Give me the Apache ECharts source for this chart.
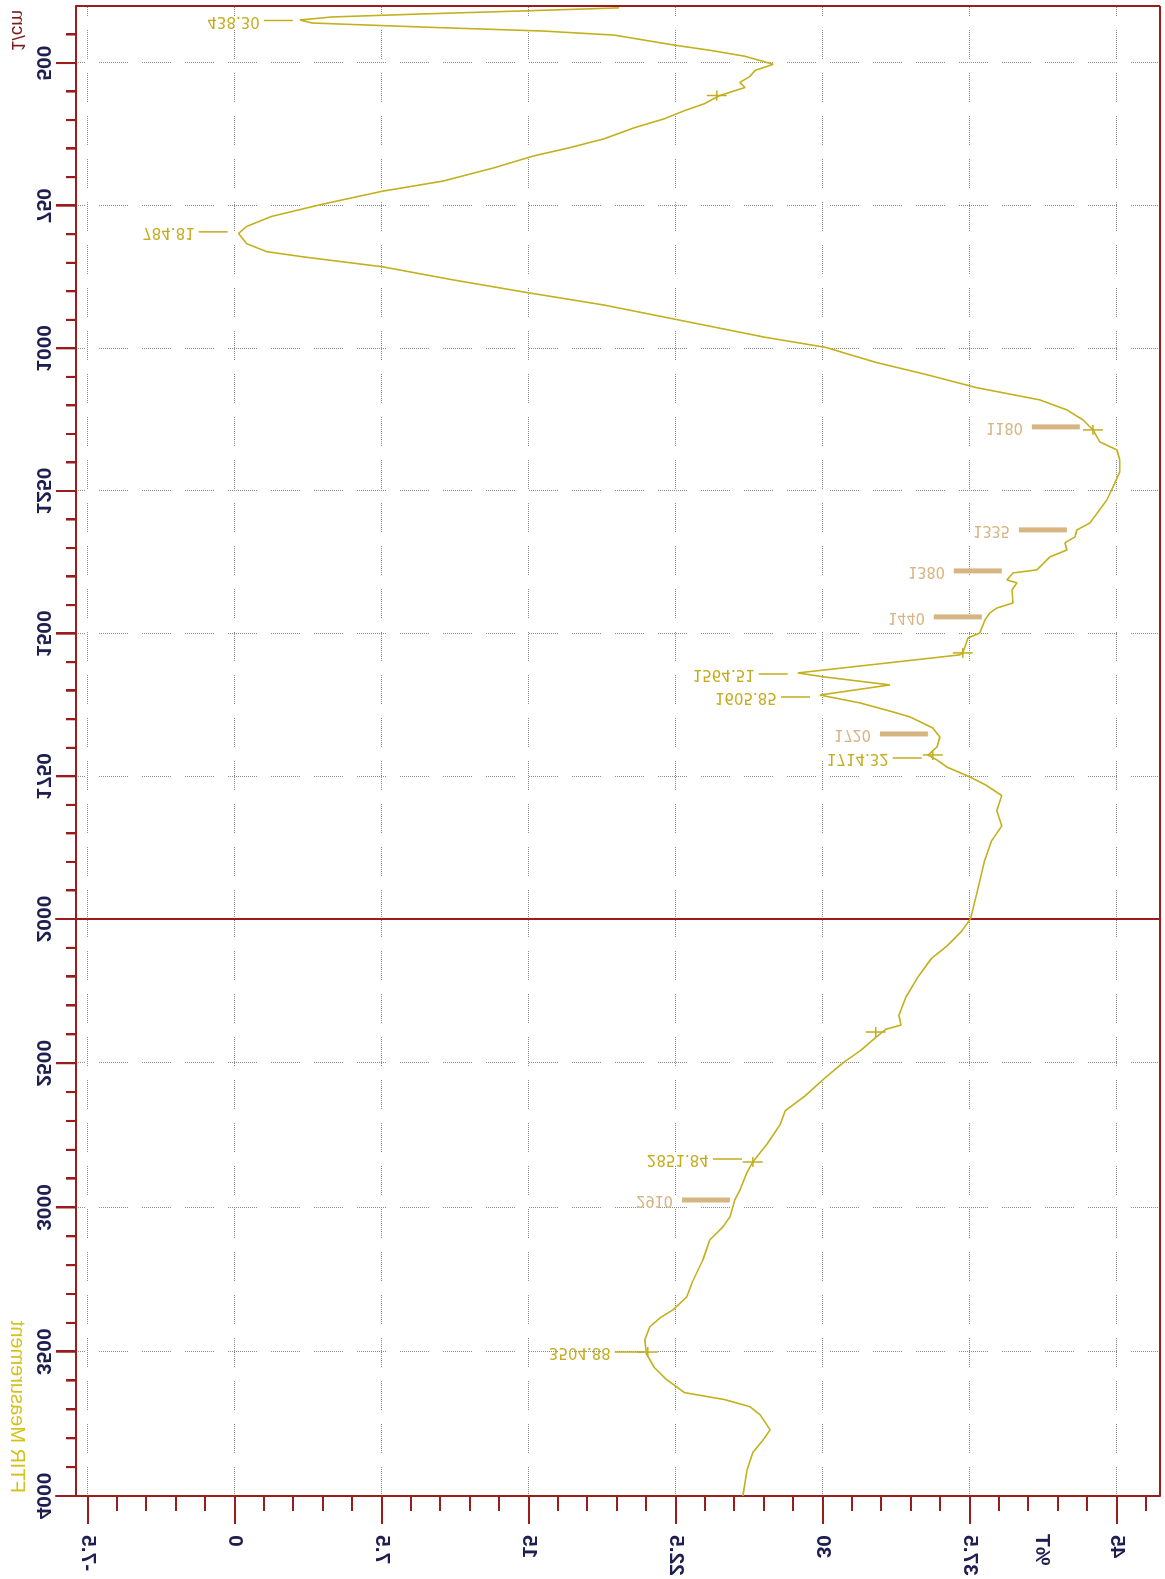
<!DOCTYPE html>
<html><head><meta charset="utf-8">
<script src="https://cdn.jsdelivr.net/npm/echarts@6/dist/echarts.min.js"></script>
<style>
html,body{margin:0;padding:0;background:#fff;overflow:hidden;width:1165px;height:1579px;}
#chart{position:absolute;left:0;top:0;width:1579px;height:1165px;transform-origin:0 0;transform:matrix(0,-1,-1,0,1165,1579);}
</style></head><body><div id="chart"></div>
<script>
// ---- spectrum (wavenumber in 1/cm, transmittance in %T) ----
const wavenumber = [403.3,408.6,413.9,419.2,424.5,429.8,436.9,443.9,451.0,459.8,468.6,477.5,488.1,502.2,512.8,523.4,533.9,542.8,556.9,571.0,583.4,597.5,613.4,632.8,648.7,662.8,684.0,706.9,724.6,747.5,768.7,786.4,798.7,816.4,830.5,839.3,857.0,879.9,901.1,924.0,945.2,962.9,980.5,998.2,1024.6,1045.8,1068.8,1090.3,1107.8,1125.4,1142.9,1163.9,1178.0,1195.5,1216.5,1242.8,1265.6,1306.0,1318.2,1330.5,1340.9,1353.3,1365.5,1388.2,1393.5,1405.9,1411.0,1423.4,1446.1,1455.0,1463.6,1476.0,1498.7,1507.6,1533.9,1537.2,1568.8,1575.3,1589.8,1607.5,1621.2,1637.1,1645.9,1665.3,1681.2,1698.5,1712.7,1721.3,1733.7,1751.1,1766.0,1783.6,1810.1,1836.6,1863.0,1898.3,1942.5,2000.0,2043.3,2095.6,2137.5,2200.3,2270.1,2332.9,2367.8,2381.8,2409.7,2455.1,2496.9,2549.3,2612.1,2664.5,2714.0,2776.5,2811.0,2842.1,2880.1,2939.1,2974.0,3032.6,3067.5,3112.5,3181.6,3261.6,3310.1,3355.1,3382.6,3414.1,3459.1,3505.5,3554.4,3596.2,3641.6,3666.0,3690.5,3718.4,3770.7,3805.6,3847.5,3910.3,4000.0];
const transmittance = [19.60,14.72,9.59,4.96,3.32,3.94,9.59,15.75,19.35,20.89,22.43,24.23,26.03,27.47,26.54,26.28,25.77,26.03,24.74,23.97,22.94,21.92,20.38,18.83,17.04,15.24,13.18,10.61,7.53,4.45,1.88,0.60,0.19,0.60,1.63,3.42,7.53,11.13,14.72,18.83,21.92,24.49,27.05,30.14,32.71,35.27,37.84,41.07,42.45,43.27,43.78,44.13,45.00,45.15,45.15,44.80,44.49,43.62,42.96,42.86,42.35,42.45,41.58,40.92,39.70,39.39,39.90,39.65,39.70,38.88,38.52,38.27,38.01,37.40,37.14,36.97,28.72,29.98,33.42,29.85,31.88,33.58,34.45,35.61,35.97,35.82,35.36,35.82,36.33,37.50,38.35,39.13,38.87,39.13,38.61,38.25,37.94,37.53,37.07,36.30,35.53,34.86,34.24,33.88,33.99,33.22,32.71,31.94,31.06,30.14,29.11,28.08,27.81,27.19,26.79,26.43,26.12,25.77,25.51,25.26,24.90,24.23,23.88,23.32,23.06,22.35,21.69,21.17,20.92,20.99,21.40,22.02,22.94,25.00,26.28,26.80,27.31,26.95,26.44,26.13,25.92];

// ---- peak annotations ----
const peakWn   = [425.4, 795.8, 1570.6, 1610.9, 1717.8, 2831.9, 3500.9];
const peakT    = [2.96, -0.36, 28.21, 29.34, 35.05, 25.87, 20.87];
const peakText = ['438.30','784.81','1564.51','1605.85','1714.32','2851.84','3504.88'];
const bandWn   = [1137.6, 1318.1, 1390.0, 1470.6, 1675.7, 2974.0];
const bandT    = [43.11, 42.45, 39.13, 38.11, 35.36, 25.26];
const bandText = ['1180','1335','1380','1440','1720','2910'];
const crossWn  = [556.9, 1142.9, 1533.7, 1712.5, 2391.7, 2842.3, 3500.9];
const crossT   = [24.59, 43.78, 37.14, 35.61, 32.70, 26.43, 21.07];

// ---- ticks ----
const wnLabelsLow  = [4000, 3500, 3000, 2500];
const wnLabelsHigh = [2000, 1750, 1500, 1250, 1000, 750, 500];
const wnMinorLow   = [2100,2200,2300,2400,2600,2700,2800,2900,3100,3200,3300,3400,3600,3700,3800,3900];
const wnMinorHigh  = [450,550,600,650,700,800,850,900,950,1050,1100,1150,1200,1300,1350,1400,1450,1550,1600,1650,1700,1800,1850,1900,1950];
const tLabels      = [-7.5, 0, 7.5, 15, 22.5, 30, 37.5, 45];
const tMinor       = [-6,-4.5,-3,-1.5,1.5,3,4.5,6,9,10.5,12,13.5,16.5,18,19.5,21,24,25.5,27,28.5,31.5,33,34.5,36,39,40.5,42,43.5,46.5];
const T_MIN = -8.1, T_MAX = 47.2;

// layout: plot frame is 1084 px tall; the grids reach 20 px further down so the wavenumber ticks lie inside them
const PLOT_H = 1084, TICK_BAND = 20;
const T_AXIS_MIN = T_MIN - TICK_BAND * (T_MAX - T_MIN) / PLOT_H;

const RED = '#9b1c1c', CURVE = '#c2b01c', YEL = '#c4ac1e', BEIGE = '#d6b582', INK = '#1e1e50', GRIDC = '#8a8a8a';
const dash = []; for (let i = 0; i < 15; i++) { dash.push(1, 1); } dash[dash.length - 1] = 14;
const plain = v => String(v);

const lowPts = [], highPts = [];
wavenumber.forEach((w, i) => { if (w >= 2000) lowPts.push([w, transmittance[i]]); if (w <= 2000) highPts.push([w, transmittance[i]]); });
function pick(ws, ts, txt, low) { const out = []; ws.forEach((w, i) => { if ((w >= 2000) === low) out.push([w, ts[i], txt ? txt[i] : '']); }); return out; }

const chart = echarts.init(document.getElementById('chart'), null, {renderer: 'canvas'});
const tickLabelStyle = {color: INK, fontFamily: '"Liberation Sans", Arial, sans-serif', fontSize: 21, fontWeight: 'bold', formatter: plain};

// x axes sit on a hidden helper y axis whose zero lies TICK_BAND px above the grid bottom (= T_MIN)
function xMajor(grid, min, max, labels, helper) {
  return {type:'value', gridIndex:grid, min:min, max:max, inverse:true, position:'bottom',
    axisLine:{show:true, onZero:true, onZeroAxisIndex:helper, lineStyle:{color:RED, width:2}},
    axisTick:{show:true, inside:false, customValues:labels, length:20, lineStyle:{color:RED, width:2}},
    axisLabel:Object.assign({show:true, customValues:labels, margin:3, showMinLabel:true, showMaxLabel:true}, tickLabelStyle),
    splitLine:{show:true, lineStyle:{color:GRIDC, width:1, type:dash}}};
}
function xMinor(grid, min, max, vals, helper) {
  return {type:'value', gridIndex:grid, min:min, max:max, inverse:true, position:'bottom',
    axisLine:{show:false, onZero:true, onZeroAxisIndex:helper},
    axisTick:{show:true, inside:false, customValues:vals, length:10, lineStyle:{color:RED, width:2}},
    axisLabel:{show:false}, splitLine:{show:false}};
}
const yBase = {type:'value', min:T_AXIS_MIN, max:T_MAX, position:'left'};
const yHelper = g => ({type:'value', gridIndex:g, min:-TICK_BAND, max:PLOT_H, position:'right', show:false,
  axisLine:{show:false, onZero:false}, axisTick:{show:false}, axisLabel:{show:false}, splitLine:{show:false}});

function tickSeries(major, minor, xi, yi) {
  const data = major.map(v => [v, T_MIN, 1]).concat(minor.map(v => [v, T_MIN, 0]));
  return {type:'custom', xAxisIndex:xi, yAxisIndex:yi, silent:true, z:7, animation:false, clip:false,
    data:data,
    renderItem:function(params, api){
      const p = api.coord([api.value(0), api.value(1)]);
      const len = api.value(2) ? 20 : 10;
      return {type:'line', shape:{x1:p[0], y1:p[1], x2:p[0], y2:p[1] + len}, style:{stroke:RED, lineWidth:2}};
    }};
}
// top and far frame edges, drawn along the axis extents
function frameSeries(segs, xi, yi) {
  return {type:'custom', xAxisIndex:xi, yAxisIndex:yi, silent:true, z:7, animation:false, clip:false,
    data:segs,
    renderItem:function(params, api){
      const a = api.coord([api.value(0), api.value(1)]);
      const b = api.coord([api.value(2), api.value(3)]);
      return {type:'line', shape:{x1:a[0], y1:a[1], x2:b[0], y2:b[1]}, style:{stroke:RED, lineWidth:2}};
    }};
}
function labelSeries(data, xi, yi, band) {
  return {type:'custom', xAxisIndex:xi, yAxisIndex:yi, silent:true, z:6, animation:false, clip:false,
    data:data.map(d => [d[0], d[1]]),
    renderItem:function(params, api){
      const p = api.coord([api.value(0), api.value(1)]);
      const txt = data[params.dataIndex][2];
      const len = band ? 48 : 29, lw = band ? 5 : 1.5, col = band ? BEIGE : YEL, gap = band ? 9 : 4;
      const font = band ? '16px "Liberation Sans Narrow", "DejaVu Sans Condensed", sans-serif' : '15px "DejaVu Sans", sans-serif';
      return {type:'group', children:[
        {type:'line', shape:{x1:p[0], y1:p[1], x2:p[0], y2:p[1] + len}, style:{stroke:col, lineWidth:lw}},
        {type:'text', x:p[0], y:p[1] + len + gap, rotation:Math.PI / 2,
          style:{text:txt, fill:col, font:font, align:'right', verticalAlign:'middle'}}
      ]};
    }};
}
function crossSeries(data, xi, yi) {
  return {type:'custom', xAxisIndex:xi, yAxisIndex:yi, silent:true, z:6, animation:false, clip:false,
    data:data.map(d => [d[0], d[1]]),
    renderItem:function(params, api){
      const p = api.coord([api.value(0), api.value(1)]);
      return {type:'group', children:[
        {type:'line', shape:{x1:p[0] - 5, y1:p[1], x2:p[0] + 5, y2:p[1]}, style:{stroke:YEL, lineWidth:1.5}},
        {type:'line', shape:{x1:p[0], y1:p[1] - 10, x2:p[0], y2:p[1] + 10}, style:{stroke:YEL, lineWidth:1.5}}
      ]};
    }};
}

const option = {
  animation:false,
  backgroundColor:'#ffffff',
  grid:[
    {left:83, top:5, width:577, height:PLOT_H + TICK_BAND, show:false},
    {left:660, top:5, width:913, height:PLOT_H + TICK_BAND, show:false}
  ],
  xAxis:[
    xMajor(0, 2000, 4000, wnLabelsLow, 3),
    xMinor(0, 2000, 4000, wnMinorLow, 3),
    xMajor(1, 400, 2000, wnLabelsHigh, 4),
    xMinor(1, 400, 2000, wnMinorHigh, 4)
  ],
  yAxis:[
    Object.assign({}, yBase, {gridIndex:0,
      axisLine:{show:true, onZero:false, lineStyle:{color:RED, width:2}},
      axisTick:{show:true, customValues:tLabels, length:28, lineStyle:{color:RED, width:2}},
      axisLabel:Object.assign({show:true, customValues:tLabels, margin:39, showMinLabel:true, showMaxLabel:true}, tickLabelStyle),
      splitLine:{show:true, lineStyle:{color:GRIDC, width:1, type:dash}}}),
    Object.assign({}, yBase, {gridIndex:0,
      axisLine:{show:false, onZero:false}, axisTick:{show:true, customValues:tMinor, length:15, lineStyle:{color:RED, width:2}},
      axisLabel:{show:false}, splitLine:{show:false}}),
    Object.assign({}, yBase, {gridIndex:1,
      axisLine:{show:true, onZero:false, lineStyle:{color:RED, width:2}},
      axisTick:{show:false, customValues:tLabels}, axisLabel:{show:false},
      splitLine:{show:true, lineStyle:{color:GRIDC, width:1, type:dash}}}),
    yHelper(0),
    yHelper(1)
  ],
  graphic:[
    {type:'text', x:86, y:1148, style:{text:'FTIR Measurement', fill:'#d4c21a', font:'20px "Liberation Sans", Arial, sans-serif', align:'left', verticalAlign:'middle'}},
    {type:'text', x:1569, y:1148, style:{text:'1/cm', fill:'#7a1a1a', font:'19px "Liberation Sans", Arial, sans-serif', align:'right', verticalAlign:'middle'}},
    {type:'text', x:45, y:123, style:{text:'%T', fill:INK, font:'bold 21px "Liberation Sans", Arial, sans-serif', align:'right', verticalAlign:'middle'}}
  ],
  series:[
    {type:'line', xAxisIndex:0, yAxisIndex:0, data:lowPts, showSymbol:false, symbol:'none', lineStyle:{color:CURVE, width:1.6}, z:4},
    {type:'line', xAxisIndex:2, yAxisIndex:2, data:highPts, showSymbol:false, symbol:'none', lineStyle:{color:CURVE, width:1.6}, z:4},
    tickSeries(wnLabelsLow.concat([2000]), wnMinorLow, 0, 0),
    tickSeries(wnLabelsHigh, wnMinorHigh, 2, 2),
    frameSeries([[4000, T_MAX, 2000, T_MAX]], 0, 0),
    frameSeries([[2000, T_MAX, 400, T_MAX], [400, T_MIN, 400, T_MAX]], 2, 2),
    labelSeries(pick(peakWn, peakT, peakText, true), 0, 0, false),
    labelSeries(pick(peakWn, peakT, peakText, false), 2, 2, false),
    labelSeries(pick(bandWn, bandT, bandText, true), 0, 0, true),
    labelSeries(pick(bandWn, bandT, bandText, false), 2, 2, true),
    crossSeries(pick(crossWn, crossT, null, true), 0, 0),
    crossSeries(pick(crossWn, crossT, null, false), 2, 2)
  ]
};
chart.setOption(option);
</script></body></html>
